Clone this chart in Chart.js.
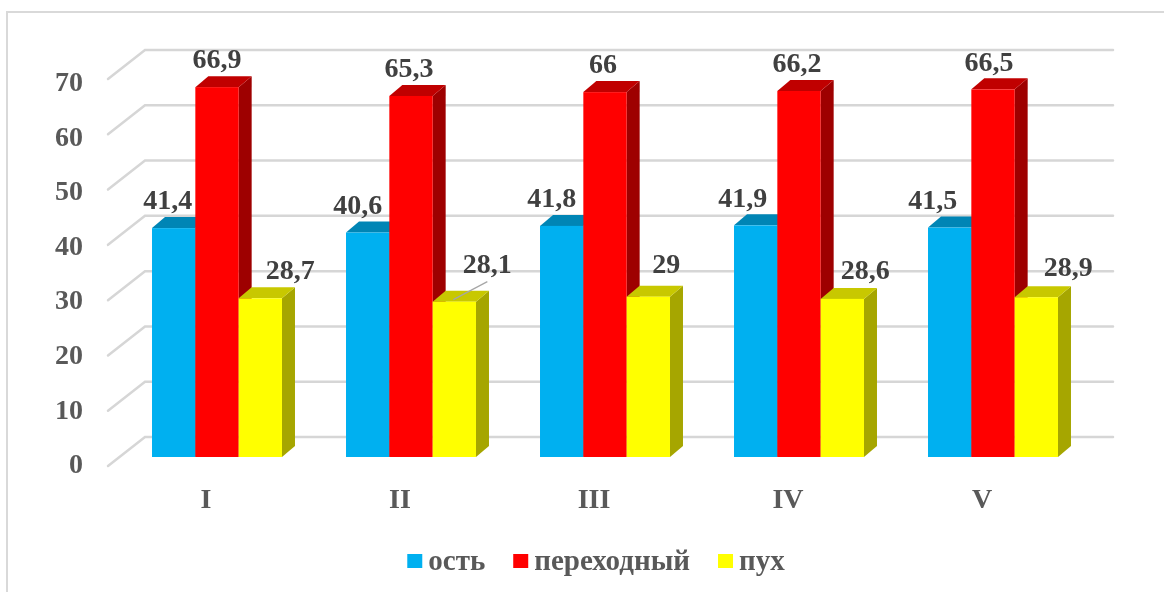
<!DOCTYPE html>
<html lang="ru">
<head>
<meta charset="utf-8">
<title>ость / переходный / пух</title>
<script src="https://cdn.jsdelivr.net/npm/chart.js@4.4.1/dist/chart.umd.min.js"></script>
<style>
  html, body { margin: 0; padding: 0; background: #ffffff; }
  canvas { display: block; }
</style>
</head>
<body>
<canvas id="chart" width="1164" height="592"></canvas>
<script>
// Categories and series values
const categories = ['I', 'II', 'III', 'IV', 'V'];
const seriesNames = ['ость', 'переходный', 'пух'];
const ostValues = [41.4, 40.6, 41.8, 41.9, 41.5];
const perekhodValues = [66.9, 65.3, 66, 66.2, 66.5];
const pukhValues = [28.7, 28.1, 29, 28.6, 28.9];
const yTicks = [0, 10, 20, 30, 40, 50, 60, 70];

// Face colours of the 3D columns: front, top, side
const faceColors = [
  { front: '#00B0F0', top: '#0085B5', side: '#006E96' },
  { front: '#FF0000', top: '#C00000', side: '#9E0000' },
  { front: '#FFFF00', top: '#C8C800', side: '#A6A600' }
];

// Placement tweaks for the value labels (dx, dy from the column's top centre)
const labelShift = [
  [[-6, -26], [-10, -26], [-10, -26], [-13, -26], [-17, -26]],
  [[0, -26], [-2, -26], [-2, -26], [-2, -26], [-4, -26]],
  [[30, -27], [33, -36], [18, -31], [23, -27], [32, -28]]
];
const leaderLabels = [[2, 1]];

const DEPTH_X = 13, DEPTH_Y = 11;          // column depth
const WALL_X = 25, WALL_Y = -20;           // back wall offset from the column plane
const FLOOR_X = -12, FLOOR_Y = 9;          // front edge of the floor
const FONT = '"Liberation Serif", "Times New Roman", serif';

const fmt = v => String(v).replace('.', ',');

const depthPlugin = {
  id: 'depth3d',
  beforeDatasetsDraw(chart) {
    const { ctx, chartArea: a, scales: { y } } = chart;
    ctx.save();
    // back wall gridlines with the side-wall diagonals
    ctx.strokeStyle = '#D6D6D6';
    ctx.lineWidth = 2.5;
    ctx.lineCap = 'round';
    yTicks.forEach(v => {
      const p = y.getPixelForValue(v);
      ctx.beginPath();
      ctx.moveTo(a.left + FLOOR_X, p + FLOOR_Y);
      ctx.lineTo(a.left + WALL_X, p + WALL_Y);
      ctx.lineTo(a.right + WALL_X - 2, p + WALL_Y);
      ctx.stroke();
    });
    // value axis labels
    ctx.fillStyle = '#595959';
    ctx.font = 'bold 28px ' + FONT;
    ctx.textAlign = 'right';
    ctx.textBaseline = 'middle';
    yTicks.forEach(v => {
      ctx.fillText(String(v), a.left - 37, y.getPixelForValue(v) + 9 + v * 0.07);
    });
    // category labels
    ctx.textAlign = 'center';
    const x = chart.scales.x;
    categories.forEach((c, i) => {
      ctx.fillText(c, x.getPixelForValue(i) - 11, 501);
    });
    ctx.restore();
  },
  beforeDatasetDraw() {
    return false; // columns are drawn as 3D blocks below
  },
  afterDatasetsDraw(chart) {
    const { ctx } = chart;
    const metas = chart.data.datasets.map((d, i) => chart.getDatasetMeta(i));
    ctx.save();
    categories.forEach((c, i) => {
      metas.forEach((meta, d) => {
        const el = meta.data[i];
        const { x, y, base, width } = el.getProps(['x', 'y', 'base', 'width'], true);
        const x0 = x - width / 2, x1 = x + width / 2;
        const col = faceColors[d];
        ctx.fillStyle = col.side;
        ctx.beginPath();
        ctx.moveTo(x1, y);
        ctx.lineTo(x1 + DEPTH_X, y - DEPTH_Y);
        ctx.lineTo(x1 + DEPTH_X, base - DEPTH_Y);
        ctx.lineTo(x1, base);
        ctx.closePath();
        ctx.fill();
        ctx.fillStyle = col.top;
        ctx.beginPath();
        ctx.moveTo(x0, y);
        ctx.lineTo(x1, y);
        ctx.lineTo(x1 + DEPTH_X, y - DEPTH_Y);
        ctx.lineTo(x0 + DEPTH_X, y - DEPTH_Y);
        ctx.closePath();
        ctx.fill();
        ctx.fillStyle = col.front;
        ctx.fillRect(x0, y, width, base - y);
      });
    });
    // value labels
    ctx.fillStyle = '#404040';
    ctx.font = 'bold 28px ' + FONT;
    ctx.textAlign = 'center';
    ctx.textBaseline = 'middle';
    metas.forEach((meta, d) => {
      meta.data.forEach((el, i) => {
        const { x, y } = el.getProps(['x', 'y'], true);
        const [sx, sy] = labelShift[d][i];
        const lx = x + sx, ly = y + sy;
        if (leaderLabels.some(([a, b]) => a === d && b === i)) {
          ctx.save();
          ctx.strokeStyle = '#A6A6A6';
          ctx.lineWidth = 1.2;
          ctx.beginPath();
          ctx.moveTo(x - 1, y - 2);
          ctx.lineTo(lx, ly + 16);
          ctx.stroke();
          ctx.restore();
        }
        ctx.fillText(fmt(chart.data.datasets[d].data[i]), lx, ly);
      });
    });
    ctx.restore();
  },
  afterDraw(chart) {
    const { ctx } = chart;
    ctx.save();
    // outer frame
    ctx.strokeStyle = '#D9D9D9';
    ctx.lineWidth = 2;
    ctx.strokeRect(7, 12, 1180, 600);
    // legend
    ctx.font = 'bold 29px ' + FONT;
    ctx.textBaseline = 'middle';
    ctx.textAlign = 'left';
    const box = 15, gap = 6, spacing = 28;
    const widths = seriesNames.map(n => ctx.measureText(n).width);
    const total = widths.reduce((s, w) => s + box + gap + w, 0) + spacing * (seriesNames.length - 1);
    let lx = 596 - total / 2;
    const ly = 561;
    seriesNames.forEach((n, i) => {
      ctx.fillStyle = faceColors[i].front;
      ctx.fillRect(lx, ly - 7, box, 14);
      ctx.fillStyle = '#595959';
      ctx.fillText(n, lx + box + gap, ly + 2);
      lx += box + gap + widths[i] + spacing;
    });
    ctx.restore();
  }
};

new Chart(document.getElementById('chart'), {
  type: 'bar',
  data: {
    labels: categories,
    datasets: [
      { label: seriesNames[0], data: ostValues, backgroundColor: faceColors[0].front },
      { label: seriesNames[1], data: perekhodValues, backgroundColor: faceColors[1].front },
      { label: seriesNames[2], data: pukhValues, backgroundColor: faceColors[2].front }
    ]
  },
  options: {
    responsive: false,
    animation: false,
    layout: { padding: { left: 120, right: 74, top: 70, bottom: 135 } },
    datasets: { bar: { barPercentage: 1, categoryPercentage: 0.67 } },
    scales: {
      x: { display: false },
      y: { display: false, min: 0, max: 70 }
    },
    plugins: {
      legend: { display: false },
      tooltip: { enabled: false }
    }
  },
  plugins: [depthPlugin]
});
</script>
</body>
</html>
